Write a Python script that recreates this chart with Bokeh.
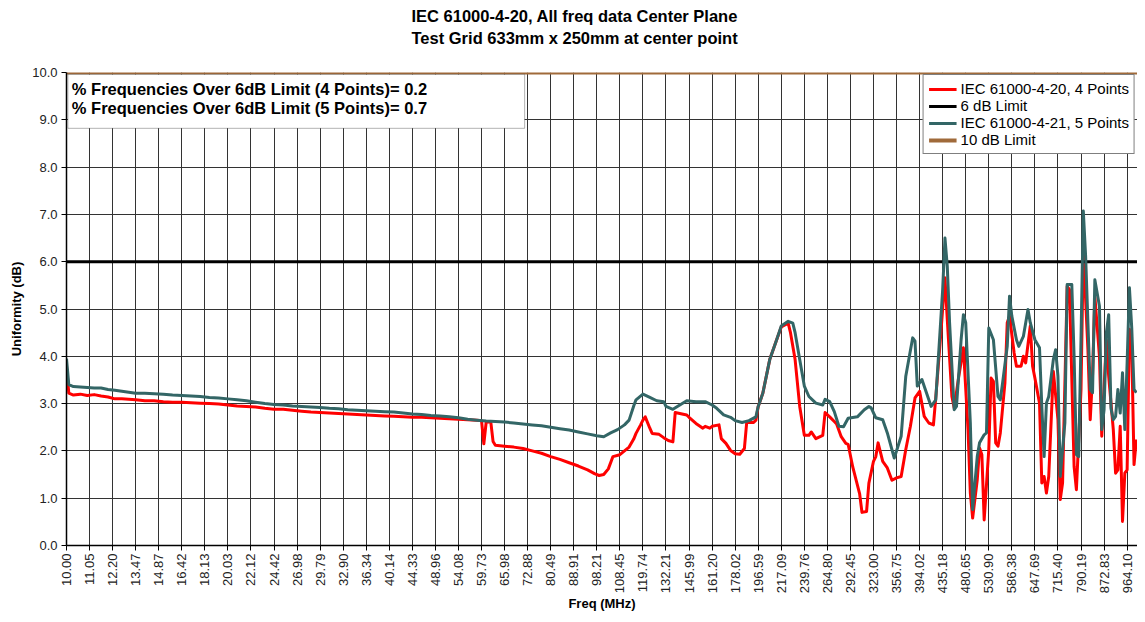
import math
from bokeh.plotting import figure
from bokeh.models import Range1d, FixedTicker, BoxAnnotation, Label, Legend, LegendItem, Title
from bokeh.embed import file_html
from bokeh.resources import INLINE

# ---------------- data ----------------
freq_labels = ["10.00", "11.05", "12.20", "13.47", "14.87", "16.42", "18.13", "20.03", "22.12",
               "24.42", "26.98", "29.79", "32.90", "36.34", "40.14", "44.33", "48.96", "54.08",
               "59.73", "65.98", "72.88", "80.49", "88.91", "98.21", "108.45", "119.74", "132.21",
               "145.99", "161.20", "178.02", "196.59", "217.09", "239.76", "264.80", "292.45",
               "323.00", "356.75", "394.02", "435.18", "480.65", "530.90", "586.38", "647.69",
               "715.40", "790.19", "872.83", "964.10"]
label_step = 10  # frequency points between labelled ticks

# IEC 61000-4-20, 4 points  (frequency point number, uniformity dB)
red_idx = [0, 1, 3, 6, 9, 12, 15, 18, 21, 24, 27, 30, 34, 38, 42, 46, 50, 54, 58, 62, 66, 70,
           74, 78, 82, 86, 90, 94, 98, 102, 106, 110, 114, 118, 122, 126, 130, 134, 138, 142,
           146, 150, 154, 158, 162, 166, 170, 174, 178, 180, 181, 182, 184, 185, 186, 190, 194,
           198, 202, 206, 210, 214, 218, 222, 226, 229, 231, 233, 235, 237, 240, 242, 244, 246,
           247, 249, 250, 251, 253, 254, 257, 259, 261, 263, 264, 266, 269, 270, 273, 276, 277,
           279, 280, 283, 284, 286, 288, 290, 292, 294, 295, 298, 299, 300, 302, 305, 308, 310,
           313, 314, 316, 318, 320, 322, 323, 325, 328, 329, 331, 333, 334, 336, 338, 339, 341,
           344, 345, 347, 348, 350, 351, 352, 354, 356, 358, 360, 362, 364, 366, 368, 370, 372,
           374, 376, 377, 379, 381, 382, 384, 385, 387, 389, 391, 392, 393, 395, 396, 397, 398,
           400, 401, 402, 403, 404, 405, 407, 408, 409, 411, 412, 414, 415, 416, 418, 419, 420,
           422, 423, 424, 425, 426, 428, 430, 431, 432, 434, 435, 437, 438, 440, 441, 443, 444,
           445, 446, 448, 449, 451, 452, 454, 455, 456, 457, 458, 459, 460, 461, 462, 463, 464]
red_db = [3.80, 3.22, 3.18, 3.20, 3.17, 3.19, 3.16, 3.14, 3.10, 3.10, 3.09, 3.08, 3.06, 3.06,
          3.04, 3.03, 3.03, 3.02, 3.01, 3.00, 2.99, 2.97, 2.95, 2.94, 2.93, 2.90, 2.88, 2.88,
          2.86, 2.84, 2.82, 2.81, 2.80, 2.79, 2.78, 2.77, 2.76, 2.75, 2.74, 2.73, 2.72, 2.71,
          2.71, 2.70, 2.69, 2.68, 2.67, 2.66, 2.65, 2.64, 2.15, 2.60, 2.62, 2.20, 2.12, 2.10,
          2.08, 2.05, 2.00, 1.95, 1.88, 1.82, 1.75, 1.68, 1.60, 1.52, 1.48, 1.50, 1.62, 1.88,
          1.92, 2.00, 2.08, 2.25, 2.37, 2.55, 2.65, 2.72, 2.48, 2.37, 2.35, 2.28, 2.22, 2.19,
          2.81, 2.79, 2.76, 2.71, 2.58, 2.48, 2.52, 2.48, 2.52, 2.55, 2.26, 2.16, 2.01, 1.94,
          1.93, 2.05, 2.60, 2.60, 2.65, 2.94, 3.22, 3.93, 4.35, 4.62, 4.70, 4.50, 3.93, 2.94,
          2.33, 2.33, 2.40, 2.26, 2.33, 2.81, 2.72, 2.62, 2.57, 2.30, 2.16, 2.14, 1.66, 1.09,
          0.70, 0.72, 1.32, 1.78, 1.88, 2.17, 1.78, 1.64, 1.38, 1.43, 1.46, 2.03, 2.52, 3.12,
          3.26, 2.73, 2.59, 2.55, 3.12, 4.35, 5.66, 4.78, 3.15, 2.91, 3.58, 4.18, 2.45, 1.11,
          0.58, 1.39, 2.06, 1.92, 0.54, 2.03, 3.54, 3.47, 2.17, 2.10, 2.38, 3.44, 4.71, 4.85,
          4.07, 3.79, 3.79, 4.00, 3.86, 4.64, 3.79, 3.54, 3.01, 1.32, 1.46, 1.11, 1.46, 3.68,
          2.66, 0.97, 1.32, 5.48, 5.41, 1.67, 1.18, 3.30, 6.26, 4.14, 2.66, 3.60, 5.27, 4.00,
          2.31, 4.35, 3.58, 2.45, 1.53, 1.60, 2.52, 0.51, 1.53, 1.60, 4.57, 4.21, 1.71, 2.24]

# IEC 61000-4-21, 5 points
teal_idx = [0, 1, 3, 6, 9, 12, 15, 18, 21, 24, 27, 30, 34, 38, 42, 46, 50, 54, 58, 62, 66, 70,
            74, 78, 82, 86, 90, 94, 98, 102, 106, 110, 114, 118, 122, 126, 130, 134, 138, 142,
            146, 150, 154, 158, 162, 166, 170, 174, 178, 182, 186, 190, 194, 198, 202, 206, 210,
            214, 218, 222, 226, 230, 233, 236, 239, 242, 244, 246, 247, 250, 253, 256, 259, 260,
            263, 266, 269, 273, 277, 280, 282, 285, 288, 290, 293, 296, 299, 300, 302, 305, 308,
            310, 313, 315, 316, 318, 320, 322, 325, 328, 329, 331, 333, 335, 337, 339, 343, 346,
            348, 349, 351, 354, 356, 359, 362, 364, 367, 368, 369, 371, 375, 377, 378, 380, 381,
            382, 383, 385, 386, 388, 389, 390, 392, 393, 395, 396, 398, 399, 400, 402, 404, 405,
            406, 408, 409, 410, 412, 413, 415, 417, 418, 420, 422, 423, 424, 425, 426, 428, 429,
            430, 431, 433, 434, 436, 437, 438, 439, 440, 441, 442, 444, 445, 446, 448, 449, 450,
            451, 452, 453, 454, 455, 456, 457, 458, 459, 460, 461, 462, 463, 464]
teal_db = [3.95, 3.40, 3.36, 3.35, 3.34, 3.33, 3.33, 3.30, 3.28, 3.26, 3.24, 3.22, 3.22, 3.21,
           3.20, 3.18, 3.17, 3.16, 3.15, 3.13, 3.12, 3.10, 3.08, 3.06, 3.03, 3.00, 2.98, 2.97,
           2.95, 2.94, 2.93, 2.92, 2.90, 2.89, 2.87, 2.86, 2.85, 2.84, 2.83, 2.82, 2.80, 2.78,
           2.77, 2.75, 2.74, 2.72, 2.70, 2.67, 2.65, 2.63, 2.62, 2.61, 2.59, 2.57, 2.55, 2.53,
           2.50, 2.47, 2.44, 2.40, 2.36, 2.32, 2.30, 2.38, 2.45, 2.55, 2.65, 2.95, 3.08, 3.20,
           3.13, 3.06, 3.04, 2.94, 2.88, 2.97, 3.06, 3.04, 3.04, 2.97, 2.90, 2.76, 2.71, 2.64,
           2.60, 2.64, 2.72, 2.94, 3.22, 3.93, 4.35, 4.64, 4.74, 4.70, 4.50, 3.93, 3.37, 3.15,
           3.01, 2.97, 3.09, 3.04, 2.83, 2.52, 2.51, 2.69, 2.72, 2.87, 2.94, 2.91, 2.70, 2.66,
           2.38, 1.85, 2.31, 3.58, 4.39, 4.32, 3.37, 3.51, 2.94, 3.08, 3.86, 5.41, 6.50, 5.90,
           4.71, 2.87, 2.94, 4.35, 4.88, 4.71, 2.59, 0.76, 1.88, 2.17, 2.34, 2.38, 4.60, 4.35,
           3.15, 3.08, 3.44, 4.21, 5.27, 4.85, 4.35, 4.21, 4.42, 4.99, 4.71, 4.35, 4.18, 2.94,
           1.88, 3.01, 3.15, 3.93, 4.14, 3.58, 1.46, 2.59, 5.52, 5.52, 4.00, 1.92, 1.88, 4.35,
           7.07, 6.12, 3.30, 3.23, 5.62, 5.06, 2.45, 2.87, 4.50, 4.88, 2.90, 2.66, 2.73, 3.30,
           2.80, 3.65, 2.45, 3.86, 5.45, 4.60, 3.30, 3.23]

limit_6db = 6.0
limit_10db = 10.0
pct_over_4pt = 0.2
pct_over_5pt = 0.7
title_lines = ["IEC 61000-4-20, All freq data Center Plane",
               "Test Grid 633mm x 250mm at center point"]

# ---------------- figure ----------------
FONT = "Liberation Sans"
RED = "#ff0000"
TEAL = "#336666"
BROWN = "#a06a3a"

n_last = teal_idx[-1]
p = figure(width=1137, height=614, output_backend="svg", toolbar_location=None,
           x_range=Range1d(0, n_last + 0.5), y_range=Range1d(0, 10),
           min_border_left=66, min_border_right=0, min_border_top=72, min_border_bottom=68)

def style_title(t, standoff, size="16.5px"):
    t.align = "left"
    t.offset = 345
    t.text_font = FONT
    t.text_font_size = size
    t.text_font_style = "bold"
    t.text_color = "black"
    t.standoff = standoff

# spacer between the frame and the two title lines
gap = Title(text=" ")
style_title(gap, 12, "10px")
p.add_layout(gap, "above")
sub = Title(text=title_lines[1])
style_title(sub, 2)
p.add_layout(sub, "above")
p.title.text = title_lines[0]
style_title(p.title, 2)

p.outline_line_color = None
p.background_fill_color = "white"

# axes
tick_pos = [k * label_step for k in range(len(freq_labels))]
p.xaxis.ticker = FixedTicker(ticks=tick_pos)
p.xaxis.major_label_overrides = {t: lab for t, lab in zip(tick_pos, freq_labels)}
p.xaxis.major_label_orientation = math.pi / 2
p.yaxis.ticker = FixedTicker(ticks=[float(v) for v in range(0, 11)])
p.yaxis.major_label_overrides = {float(v): f"{v:.1f}" for v in range(0, 11)}
for ax in (p.xaxis[0], p.yaxis[0]):
    ax.axis_line_color = "black"
    ax.axis_line_width = 1.5
    ax.major_tick_line_color = "black"
    ax.major_tick_out = 5
    ax.major_tick_in = 0
    ax.minor_tick_line_color = None
    ax.major_label_text_font = FONT
    ax.major_label_text_font_size = "13px"
    ax.major_label_text_color = "#222222"
    ax.axis_label_text_font = FONT
    ax.axis_label_text_font_style = "bold"
    ax.axis_label_text_font_size = "13px"
    ax.axis_label_text_color = "black"
p.xaxis.axis_label = "Freq (MHz)"
p.yaxis.axis_label = "Uniformity (dB)"
p.xaxis.major_label_standoff = 3
p.xaxis.axis_label_standoff = 0
p.yaxis.major_label_standoff = 4

p.xgrid.grid_line_color = "#333333"
p.ygrid.grid_line_color = "#333333"
p.xgrid.grid_line_width = 1
p.ygrid.grid_line_width = 1

# series
x_span = [0, n_last + 0.5]
r_red = p.line(red_idx, red_db, line_color=RED, line_width=3, line_join="round")
r_6 = p.line(x_span, [limit_6db, limit_6db], line_color="black", line_width=3)
r_teal = p.line(teal_idx, teal_db, line_color=TEAL, line_width=3, line_join="round")
r_10 = p.line(x_span, [limit_10db, limit_10db], line_color=BROWN, line_width=4)

legend = Legend(items=[
    LegendItem(label="IEC 61000-4-20, 4 Points", renderers=[r_red]),
    LegendItem(label="6 dB Limit", renderers=[r_6]),
    LegendItem(label="IEC 61000-4-21, 5 Points", renderers=[r_teal]),
    LegendItem(label="10 dB Limit", renderers=[r_10]),
], location="top_right")
legend.margin = 2
legend.padding = 5
legend.spacing = 0
legend.glyph_width = 28
legend.glyph_height = 14
legend.label_height = 14
legend.label_standoff = 4
legend.label_text_font = FONT
legend.label_text_font_size = "15px"
legend.label_text_color = "black"
legend.border_line_color = "black"
legend.border_line_width = 1
legend.background_fill_alpha = 1.0
p.add_layout(legend)

# annotation box
box = BoxAnnotation(left=0.6, right=198.7, top=9.96, bottom=8.82,
                    fill_color="white", fill_alpha=1.0, line_color="black", line_width=1)
p.add_layout(box)
lab1 = Label(x=2.3, y=9.66, text=f"% Frequencies Over 6dB Limit (4 Points)= {pct_over_4pt}",
             text_font=FONT, text_font_size="16.5px", text_font_style="bold", text_color="black",
             text_baseline="middle", text_align="left")
lab2 = Label(x=2.3, y=9.24, text=f"% Frequencies Over 6dB Limit (5 Points)= {pct_over_5pt}",
             text_font=FONT, text_font_size="16.5px", text_font_style="bold", text_color="black",
             text_baseline="middle", text_align="left")
p.add_layout(lab1)
p.add_layout(lab2)

open("out.html", "w").write(file_html(p, INLINE))
